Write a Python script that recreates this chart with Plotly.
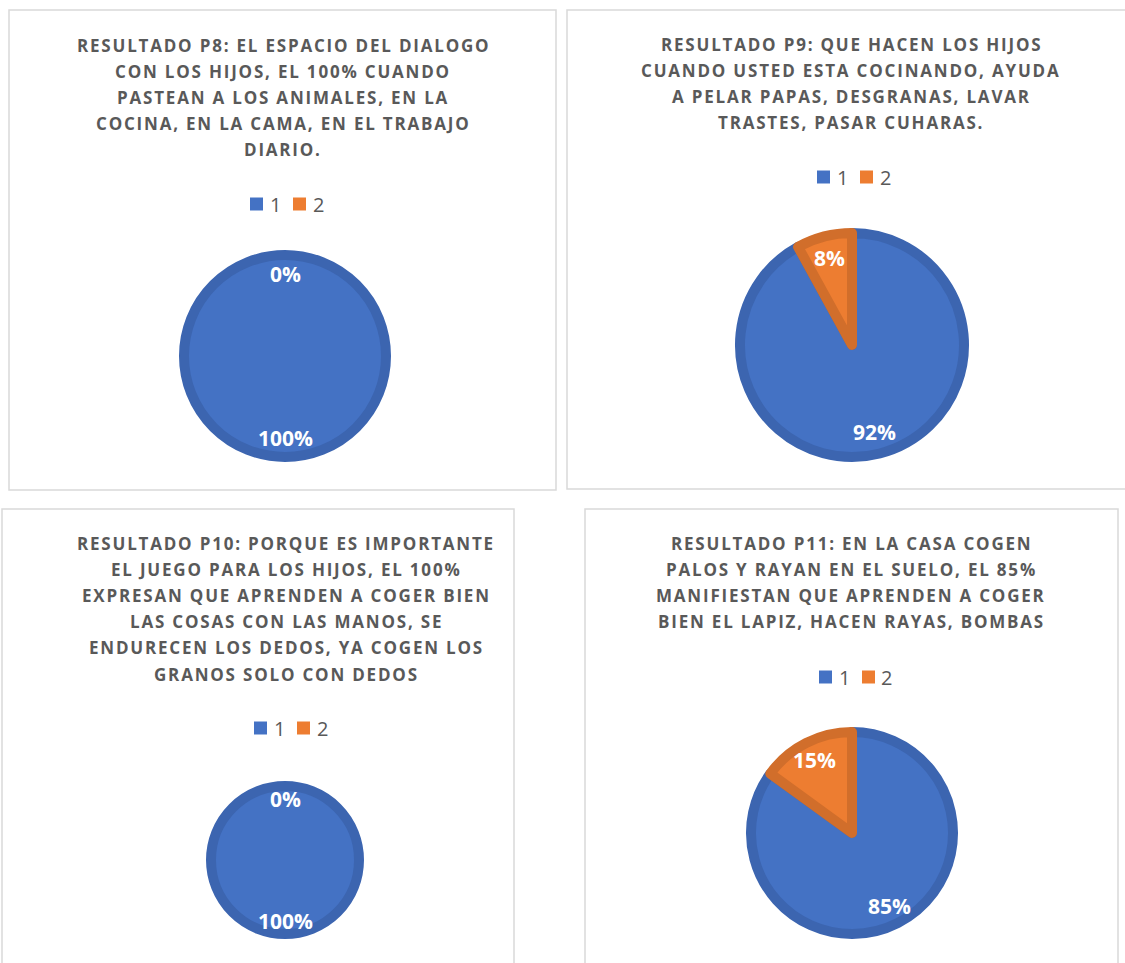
import math
import plotly.graph_objects as go

# ---------------- data ----------------
categories = ["1", "2"]

values_p8 = [100, 0]
values_p9 = [92, 8]
values_p10 = [100, 0]
values_p11 = [85, 15]

title_p8 = ["RESULTADO P8: EL ESPACIO DEL DIALOGO",
            "CON LOS HIJOS, EL 100% CUANDO",
            "PASTEAN A LOS ANIMALES, EN LA",
            "COCINA, EN LA CAMA, EN EL TRABAJO",
            "DIARIO."]
title_p9 = ["RESULTADO P9: QUE HACEN LOS HIJOS",
            "CUANDO USTED ESTA COCINANDO, AYUDA",
            "A PELAR PAPAS, DESGRANAS, LAVAR",
            "TRASTES, PASAR CUHARAS."]
title_p10 = ["RESULTADO P10: PORQUE ES IMPORTANTE",
             "EL JUEGO PARA LOS HIJOS, EL 100%",
             "EXPRESAN QUE APRENDEN A COGER BIEN",
             "LAS COSAS CON LAS MANOS, SE",
             "ENDURECEN LOS DEDOS, YA COGEN LOS",
             "GRANOS SOLO CON DEDOS"]
title_p11 = ["RESULTADO P11: EN LA CASA COGEN",
             "PALOS Y RAYAN EN EL SUELO, EL 85%",
             "MANIFIESTAN QUE APRENDEN A COGER",
             "BIEN EL LAPIZ, HACEN RAYAS, BOMBAS"]

# ---------------- layout / style ----------------
W, H = 1125, 963
FILL = ["#4472C4", "#ED7D31"]
EDGE = ["#3C65B0", "#D16E2B"]
EDGE_W = 10
TITLE_COLOR = "#595959"
BOX_COLOR = "#D9D9D9"
FONT = "Open Sans"
LINE_GAP = 26.2
LABEL_R = 0.77

panels = [
    dict(values=values_p8, title=title_p8, box=(9, 10, 556, 490), tx=283, ty=45,
         leg=(286, 204), center=(285, 356), R=106),
    dict(values=values_p9, title=title_p9, box=(567, 10, 1140, 489), tx=851, ty=44,
         leg=(853, 177), center=(852, 345), R=117),
    dict(values=values_p10, title=title_p10, box=(2, 509, 514, 980), tx=286, ty=543,
         leg=(290, 728), center=(285, 860), R=79),
    dict(values=values_p11, title=title_p11, box=(585, 509, 1118, 980), tx=851, ty=543,
         leg=(855, 677), center=(852, 833), R=106),
]


def px(x):
    return x / W


def py(y):
    return 1 - y / H


fig = go.Figure()
shapes = []
annotations = []

for p in panels:
    cx, cy = p["center"]
    R = p["R"]
    r = R - EDGE_W / 2
    fig.add_trace(go.Pie(
        labels=categories,
        values=p["values"],
        sort=False,
        direction="clockwise",
        rotation=0,
        marker=dict(colors=FILL,
                    line=dict(color=EDGE,
                              width=[EDGE_W if v > 0 else 0 for v in p["values"]])),
        textinfo="none",
        hoverinfo="label+percent",
        showlegend=False,
        domain=dict(x=[px(cx - r), px(cx + r)], y=[py(cy + r), py(cy - r)]),
    ))

    # panel border
    x0, y0, x1, y1 = p["box"]
    shapes.append(dict(type="rect", xref="paper", yref="paper",
                       x0=px(x0), x1=px(x1), y0=py(y1), y1=py(y0),
                       line=dict(color=BOX_COLOR, width=1.5), fillcolor="rgba(0,0,0,0)",
                       layer="below"))

    # title lines
    for i, line in enumerate(p["title"]):
        annotations.append(dict(
            xref="paper", yref="paper", x=px(p["tx"]), y=py(p["ty"] + i * LINE_GAP),
            xanchor="center", yanchor="middle", showarrow=False,
            text=f"<span style='letter-spacing:1.8px'><b>{line}</b></span>",
            font=dict(family=FONT, size=17, color=TITLE_COLOR)))

    # legend (squares + labels)
    lx, ly = p["leg"]
    for k, (dx, lab) in enumerate([(-36, categories[0]), (7, categories[1])]):
        shapes.append(dict(type="rect", xref="paper", yref="paper",
                           x0=px(lx + dx), x1=px(lx + dx + 13),
                           y0=py(ly + 6.5), y1=py(ly - 6.5),
                           line=dict(width=0), fillcolor=FILL[k]))
        annotations.append(dict(
            xref="paper", yref="paper", x=px(lx + dx + 25), y=py(ly),
            xanchor="center", yanchor="middle", showarrow=False, text=lab,
            font=dict(family=FONT, size=20, color=TITLE_COLOR)))

    # data labels, placed along each slice's mid angle (clockwise from 12 o'clock)
    total = sum(p["values"])
    cum = 0
    for v in p["values"]:
        theta = 2 * math.pi * (cum + v / 2) / total
        lxp = cx + LABEL_R * R * math.sin(theta)
        lyp = cy - LABEL_R * R * math.cos(theta)
        annotations.append(dict(
            xref="paper", yref="paper", x=px(lxp), y=py(lyp),
            xanchor="center", yanchor="middle", showarrow=False,
            text=f"<b>{round(100 * v / total)}%</b>",
            font=dict(family=FONT, size=21, color="white")))
        cum += v

fig.update_layout(
    width=W, height=H, autosize=False,
    margin=dict(l=0, r=0, t=0, b=0),
    paper_bgcolor="white", plot_bgcolor="white",
    shapes=shapes, annotations=annotations,
    font=dict(family=FONT),
)

fig.write_html("out.html", config={"displayModeBar": False},
               post_script="document.body.style.margin='0';document.body.style.overflow='hidden';")
